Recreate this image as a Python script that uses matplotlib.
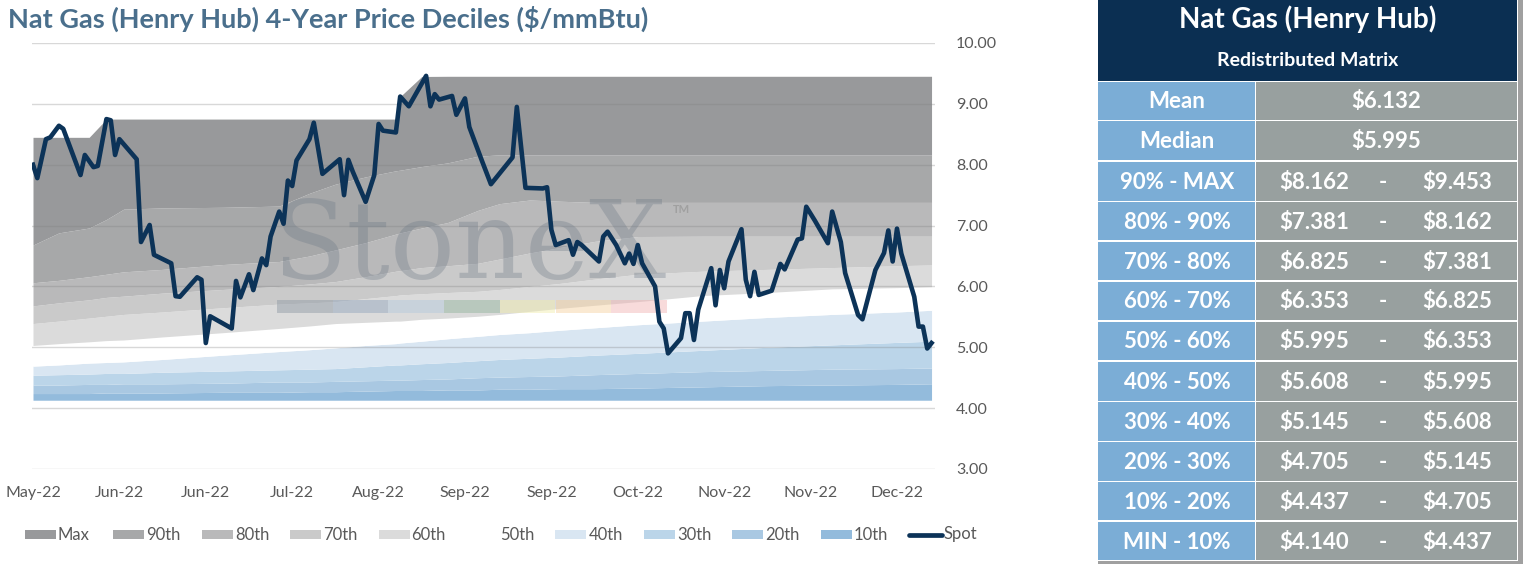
import matplotlib

matplotlib.use("Agg")
from matplotlib import pyplot as plt
from matplotlib.patches import Rectangle

plt.rcParams["font.family"] = ["Lato", "DejaVu Sans"]

# spot price, trading-day index -> $/mmBtu
spot_idx = [0, 1, 3, 4, 6, 7, 11, 12, 14, 15, 17, 18, 19, 20, 24, 25, 27, 28, 32, 33, 34, 38, 39, 40, 41,
            46, 47, 48, 50, 51, 53, 54, 55, 57, 58, 59, 60, 61, 64, 65, 67, 70, 71, 72, 73, 74, 77, 79, 80,
            81, 84, 85, 87, 91, 92, 93, 94, 97, 98, 100, 101, 104, 106, 111, 112, 114, 118, 119, 120, 121,
            124, 125, 126, 127, 131, 132, 133, 135, 137, 138, 139, 140, 141, 144, 145, 146, 147, 150, 151,
            152, 153, 154, 157, 158, 159, 160, 161, 164, 165, 166, 167, 168, 171, 173, 174, 177, 178, 179,
            181, 184, 185, 187, 188, 191, 192, 195, 197, 198, 199, 200, 201, 204, 205, 206, 207, 208]
spot_val = [8.00, 7.78, 8.42, 8.45, 8.64, 8.59, 7.83, 8.16, 7.96, 7.98, 8.75, 8.73, 8.16, 8.42, 8.09, 6.73,
            7.01, 6.52, 6.38, 5.84, 5.83, 6.15, 6.11, 5.07, 5.51, 5.31, 6.09, 5.82, 6.20, 5.94, 6.46, 6.35,
            6.82, 7.23, 7.03, 7.74, 7.65, 8.07, 8.42, 8.69, 7.85, 8.03, 8.09, 7.50, 8.08, 7.89, 7.39, 7.83,
            8.67, 8.56, 8.53, 9.12, 8.96, 9.46, 8.96, 9.16, 9.07, 9.13, 8.82, 9.09, 8.62, 8.05, 7.68, 8.12,
            8.95, 7.62, 7.61, 7.63, 6.93, 6.68, 6.76, 6.52, 6.73, 6.68, 6.41, 6.82, 6.90, 6.68, 6.38, 6.54,
            6.37, 6.68, 6.38, 6.00, 5.42, 5.31, 4.90, 5.15, 5.56, 5.56, 5.12, 5.62, 6.30, 5.69, 6.27, 5.97,
            6.41, 6.94, 6.11, 5.84, 6.24, 5.86, 5.93, 6.37, 6.28, 6.77, 6.79, 7.31, 7.08, 6.71, 7.23, 6.73,
            6.22, 5.53, 5.46, 6.27, 6.55, 6.92, 6.41, 6.95, 6.54, 5.83, 5.34, 5.34, 4.98, 5.07]

# 4-year decile levels on a common set of days
band_idx = [0, 6, 13, 17, 21, 30, 44, 57, 64, 70, 77, 84, 85, 90, 96, 103, 108, 115, 122, 130, 140, 155,
            170, 185, 200, 208]
lvl_min = [4.13] * 26
lvl_p10 = [4.24, 4.24, 4.24, 4.25, 4.25, 4.25, 4.26, 4.26, 4.27, 4.27, 4.28, 4.29, 4.29, 4.29, 4.30, 4.30,
           4.31, 4.31, 4.32, 4.32, 4.33, 4.35, 4.37, 4.38, 4.39, 4.40]
lvl_p20 = [4.38, 4.38, 4.39, 4.39, 4.40, 4.40, 4.41, 4.43, 4.43, 4.44, 4.45, 4.46, 4.46, 4.47, 4.48, 4.50,
           4.51, 4.52, 4.53, 4.55, 4.57, 4.60, 4.62, 4.64, 4.65, 4.66]
lvl_p30 = [4.54, 4.55, 4.56, 4.57, 4.57, 4.59, 4.61, 4.63, 4.64, 4.65, 4.68, 4.71, 4.71, 4.73, 4.75, 4.78,
           4.80, 4.82, 4.84, 4.87, 4.90, 4.95, 5.00, 5.04, 5.08, 5.10]
lvl_p40 = [4.69, 4.71, 4.74, 4.75, 4.76, 4.80, 4.87, 4.93, 4.96, 4.99, 5.03, 5.06, 5.07, 5.10, 5.14, 5.18,
           5.21, 5.24, 5.28, 5.32, 5.37, 5.43, 5.49, 5.54, 5.58, 5.608]
lvl_p50 = [5.03, 5.06, 5.09, 5.11, 5.12, 5.17, 5.24, 5.31, 5.35, 5.39, 5.41, 5.43, 5.43, 5.46, 5.48, 5.51,
           5.54, 5.59, 5.64, 5.69, 5.75, 5.85, 5.90, 5.96, 5.98, 5.995]
lvl_p60 = [5.39, 5.43, 5.48, 5.51, 5.54, 5.58, 5.65, 5.71, 5.73, 5.75, 5.80, 5.85, 5.86, 5.88, 5.90, 5.92,
           5.95, 6.00, 6.05, 6.12, 6.20, 6.25, 6.28, 6.31, 6.34, 6.353]
lvl_p70 = [5.68, 5.73, 5.78, 5.82, 5.84, 5.89, 5.95, 6.00, 6.04, 6.08, 6.16, 6.25, 6.26, 6.31, 6.34, 6.38,
           6.45, 6.55, 6.64, 6.74, 6.82, 6.825, 6.825, 6.825, 6.825, 6.825]
lvl_p80 = [6.06, 6.10, 6.16, 6.20, 6.24, 6.28, 6.36, 6.41, 6.50, 6.60, 6.72, 6.86, 6.88, 6.96, 7.05, 7.25,
           7.36, 7.42, 7.40, 7.381, 7.381, 7.381, 7.381, 7.381, 7.381, 7.381]
lvl_p90 = [6.68, 6.88, 6.96, 7.10, 7.27, 7.29, 7.30, 7.32, 7.53, 7.68, 7.80, 7.90, 7.91, 7.97, 8.03, 8.14,
           8.162, 8.162, 8.162, 8.162, 8.162, 8.162, 8.162, 8.162, 8.162, 8.162]
lvl_max = [8.45, 8.45, 8.45, 8.75, 8.75, 8.75, 8.75, 8.75, 8.75, 8.75, 8.75, 8.75, 9.12, 9.45, 9.453, 9.453,
           9.453, 9.453, 9.453, 9.453, 9.453, 9.453, 9.453, 9.453, 9.453, 9.453]

band_names = ["10th", "20th", "30th", "40th", "50th", "60th", "70th", "80th", "90th", "Max"]
band_colors = ["#93bbdc", "#a9c8e2", "#bbd5e9", "#d9e6f2", "#ffffff",
               "#dbdbdb", "#cacaca", "#b9b9ba", "#a7a8a9", "#98999b"]
levels = [lvl_min, lvl_p10, lvl_p20, lvl_p30, lvl_p40, lvl_p50, lvl_p60, lvl_p70, lvl_p80, lvl_p90, lvl_max]

tick_idx = [0, 20, 40, 60, 80, 100, 120, 140, 160, 180, 200]
tick_labels = ["May-22", "Jun-22", "Jun-22", "Jul-22", "Aug-22", "Sep-22", "Sep-22", "Oct-22",
               "Nov-22", "Nov-22", "Dec-22"]

row_labels = ["Mean", "Median", "90% - MAX", "80% - 90%", "70% - 80%", "60% - 70%", "50% - 60%",
              "40% - 50%", "30% - 40%", "20% - 30%", "10% - 20%", "MIN - 10%"]
row_low = [6.132, 5.995, 8.162, 7.381, 6.825, 6.353, 5.995, 5.608, 5.145, 4.705, 4.437, 4.140]
row_high = [None, None, 9.453, 8.162, 7.381, 6.825, 6.353, 5.995, 5.608, 5.145, 4.705, 4.437]

W, H = 1523, 564
NAVY = "#0c3358"
TXT = "#595959"

fig = plt.figure(figsize=(W / 100, H / 100), dpi=100)

# pixel-space layer for title, legend and matrix
over = fig.add_axes([0, 0, 1, 1], zorder=0)
over.set_xlim(0, W)
over.set_ylim(H, 0)
over.axis("off")

ax = fig.add_axes([31.7 / W, (H - 469) / H, (935 - 31.7) / W, 426 / H], zorder=1)
for lo, hi, color in zip(levels[:-1], levels[1:], band_colors):
    ax.fill_between(band_idx, lo, hi, color=color, linewidth=0, zorder=1)
ax.plot(spot_idx, spot_val, color=NAVY, linewidth=3.3, solid_joinstyle="round", zorder=5)

ax.set_xlim(-0.3, 208.8)
ax.set_ylim(3, 10)
ax.set_yticks(range(3, 11))
ax.set_yticklabels([f"{v:.2f}" for v in range(3, 11)])
ax.yaxis.tick_right()
ax.set_xticks(tick_idx)
ax.set_xticklabels(tick_labels)
ax.tick_params(length=0, labelsize=11.5, labelcolor=TXT)
ax.tick_params(axis="y", pad=15)
ax.tick_params(axis="x", pad=12)
ax.set_axisbelow(False)
ax.grid(axis="y", color="#7f7f7f", alpha=0.3, linewidth=1)
for spine in ax.spines.values():
    spine.set_visible(False)

# StoneX watermark
ax.text(0.485, 0.448, "StoneX", transform=ax.transAxes, family="DejaVu Serif", fontsize=78,
        color="#6c7886", alpha=0.33, ha="center", va="baseline", zorder=3)
ax.text(0.71, 0.60, "TM", transform=ax.transAxes, fontsize=8, fontweight="bold",
        color="#9a9a9a", alpha=0.8, zorder=3)
bar_colors = ["#8d97a3", "#8fa3bb", "#b3c9dc", "#8fb29a", "#f0ecaa", "#f5cf9c", "#f0b0b0"]
for k, c in enumerate(bar_colors):
    x0 = (277 + k * 55.7 - 31.7) / (935 - 31.7)
    ax.add_patch(Rectangle((x0, (469 - 313) / 426), 55.7 / (935 - 31.7), 13 / 426,
                           transform=ax.transAxes, color=c, alpha=0.45, linewidth=0, zorder=3))

fig.text(8 / W, 1 - 28 / H, "Nat Gas (Henry Hub) 4-Year Price Deciles ($/mmBtu)", fontsize=19.5,
         fontweight="bold", color="#4a6f8c", va="baseline")

# legend
legend_names = ["Max", "90th", "80th", "70th", "60th", "50th", "40th", "30th", "20th", "10th"]
for k, name in enumerate(legend_names):
    x0 = 25 + k * 88.4
    color = band_colors[band_names.index(name)]
    over.add_patch(Rectangle((x0, 530), 31, 9, color=color, linewidth=0))
    over.text(x0 + 33, 534.5, name, fontsize=12, color=TXT, va="center")
x0 = 25 + 10 * 88.4
over.plot([x0, x0 + 33], [534.5, 534.5], color=NAVY, linewidth=3.4, solid_capstyle="round")
over.text(x0 + 35, 534.5, "Spot", fontsize=12, color=TXT, va="center")

# redistributed matrix
over.add_patch(Rectangle((1098, 0), 419.5, 80.5, color="#0b2f52", linewidth=0))
over.text(1307.5, 19, "Nat Gas (Henry Hub)", fontsize=20, fontweight="bold", color="white",
          ha="center", va="center")
over.text(1308, 60, "Redistributed Matrix", fontsize=14, fontweight="bold", color="white",
          ha="center", va="center")
y = 81.5
for k, label in enumerate(row_labels):
    h = 38.35
    over.add_patch(Rectangle((1098, y), 157, h, color="#7badd6", linewidth=0))
    over.add_patch(Rectangle((1256.5, y), 260.5, h, color="#98a09f", linewidth=0))
    yc = y + h / 2 + 1
    over.text(1177, yc, label, fontsize=16, fontweight="bold", color="white", ha="center", va="center")
    if row_high[k] is None:
        over.text(1386, yc, f"${row_low[k]:.3f}", fontsize=16, fontweight="bold", color="white",
                  ha="center", va="center")
    else:
        over.text(1314, yc, f"${row_low[k]:.3f}", fontsize=16, fontweight="bold", color="white",
                  ha="center", va="center")
        over.text(1383, yc, "-", fontsize=16, fontweight="bold", color="white", ha="center", va="center")
        over.text(1457, yc, f"${row_high[k]:.3f}", fontsize=16, fontweight="bold", color="white",
                  ha="center", va="center")
    y += h + (2.5 if k in (1, 6) else 1.5)
over.add_patch(Rectangle((1518.5, 0), 4.5, H, color="#a0a0a0", linewidth=0))
over.add_patch(Rectangle((1098, 561), 425, 3, color="#a0a0a0", linewidth=0))

fig.savefig("out.png", dpi=100)
